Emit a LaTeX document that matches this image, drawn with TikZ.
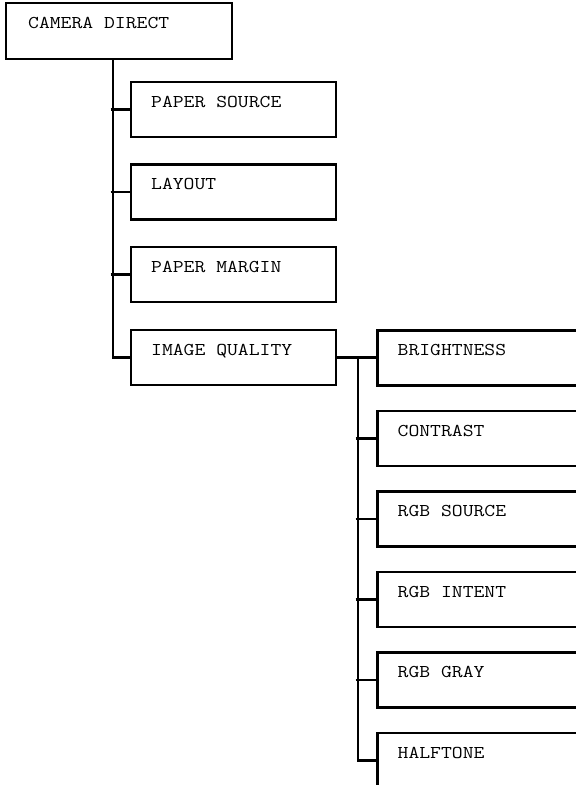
\documentclass[tikz,border=0pt]{standalone}
\usepackage{fontspec}
\newfontfamily\boxfont{Latin Modern Mono}[FakeStretch=1.17]
\begin{document}
\begin{tikzpicture}[x=1pt,y=-1pt,
  box/.style={draw,line width=2.1pt,rectangle,anchor=north west,inner sep=0pt,outer sep=0pt},
  leftbox/.style={box,minimum width=205pt,minimum height=55pt},
  rightbox/.style={box,minimum width=230pt,minimum height=55pt},
  lbl/.style={anchor=base west,inner sep=0pt,font=\boxfont\fontsize{18}{18}\selectfont},
  wire/.style={line width=2.1pt}]
\useasboundingbox (0,0) rectangle (576,785);
\clip (0,0) rectangle (576,785);
% root
\node[box,minimum width=226pt,minimum height=56pt] (cam) at (6,3) {};
\node[lbl] (camt) at ([xshift=22pt,yshift=-25pt]cam.north west) {CAMERA DIRECT};
% first level
\node[leftbox] (ps) at (131,82) {};
\node[leftbox] (lay) at (131,164.5) {};
\node[leftbox] (pm) at (131,247) {};
\node[leftbox] (iq) at (131,330) {};
\node[lbl] (pst) at ([xshift=20pt,yshift=-25pt]ps.north west) {PAPER SOURCE};
\node[lbl] (layt) at ([xshift=20pt,yshift=-25pt]lay.north west) {LAYOUT};
\node[lbl] (pmt) at ([xshift=20pt,yshift=-25pt]pm.north west) {PAPER MARGIN};
\node[lbl] (iqt) at ([xshift=20pt,yshift=-25pt]iq.north west) {IMAGE QUALITY};
% second level
\node[rightbox] (br) at (377.5,330.5) {};
\node[rightbox] (co) at (377.5,411) {};
\node[rightbox] (rs) at (377.5,491.5) {};
\node[rightbox] (ri) at (377.5,572) {};
\node[rightbox] (rg) at (377.5,652.5) {};
\node[rightbox] (ht) at (377.5,733) {};
\node[lbl] (brt) at ([xshift=20pt,yshift=-25pt]br.north west) {BRIGHTNESS};
\node[lbl] (cot) at ([xshift=20pt,yshift=-25pt]co.north west) {CONTRAST};
\node[lbl] (rst) at ([xshift=20pt,yshift=-25pt]rs.north west) {RGB SOURCE};
\node[lbl] (rit) at ([xshift=20pt,yshift=-25pt]ri.north west) {RGB INTENT};
\node[lbl] (rgt) at ([xshift=20pt,yshift=-25pt]rg.north west) {RGB GRAY};
\node[lbl] (htt) at ([xshift=20pt,yshift=-25pt]ht.north west) {HALFTONE};
% trunks
\coordinate (t1) at (113,0);
\coordinate (t1s) at (110.5,0);
\coordinate (t2) at (358,0);
\coordinate (t2s) at (355.5,0);
\draw[wire] (t1 |- cam.south) |- (iq.west);
\foreach \n in {ps,lay,pm} \draw[wire] (t1s |- \n.west) -- (\n.west);
\draw[wire] (iq.east) -- (iq.east -| br.west);
\draw[wire] (t2 |- iq.east) |- (ht.west);
\foreach \n in {co,rs,ri,rg} \draw[wire] (t2s |- \n.west) -- (\n.west);
\end{tikzpicture}
\end{document}
